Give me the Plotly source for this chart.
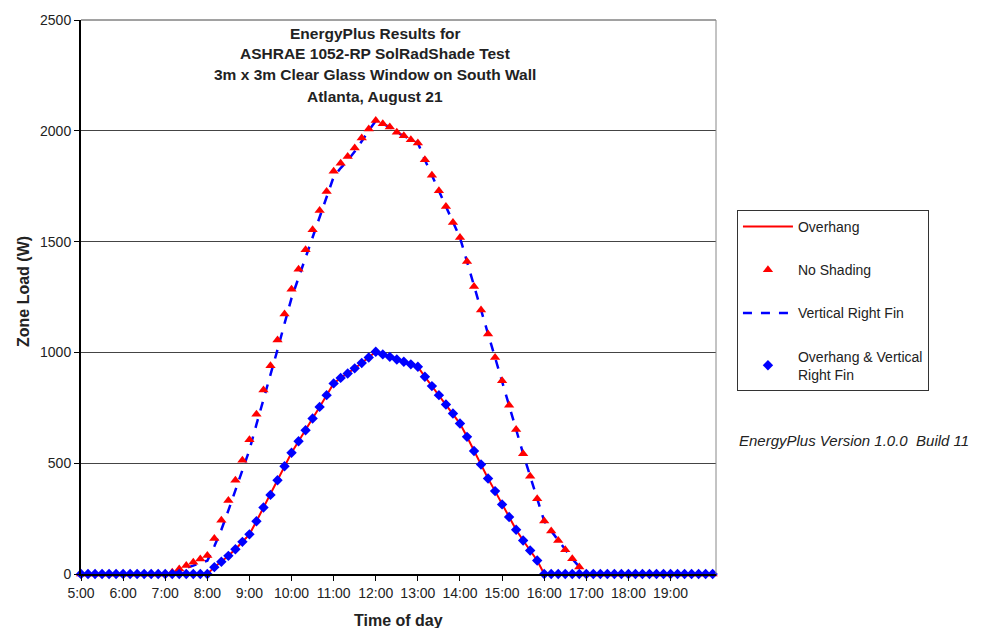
import plotly.graph_objects as go

# time of day: 5:00 .. 20:00 every 10 minutes (hours as decimals)
times = [5 + i / 6 for i in range(91)]

no_shading = [0] * 13 + [8, 23, 38, 53, 68, 83,
              160, 242, 332, 423, 513, 606, 721, 830, 940, 1056, 1173, 1285,
              1375, 1463, 1553, 1640, 1726, 1817, 1854, 1884, 1922, 1967, 2008, 2047,
              2032, 2017, 1993, 1978, 1960, 1945, 1869, 1799, 1729, 1658, 1586, 1518,
              1410, 1297, 1191, 1083, 977, 872, 762, 652, 543, 441, 340, 239,
              194, 151, 109, 69, 32, 0] + [0] * 18

vertical_fin = [0] * 13 + [5, 15, 27, 38, 50, 60,
                125, 200, 287, 378, 468, 560, 675, 785, 895, 1012, 1130, 1245,
                1337, 1428, 1521, 1610, 1698, 1792, 1832, 1866, 1906, 1955, 2000, 2045,
                2032, 2017, 1993, 1978, 1960, 1945, 1869, 1799, 1729, 1658, 1586, 1518,
                1410, 1297, 1191, 1083, 977, 872, 762, 652, 543, 441, 340, 239,
                194, 151, 109, 69, 32, 0] + [0] * 18

overhang = [0] * 19 + [31, 55, 82, 112, 145, 179, 238, 300, 357, 423, 486, 547,
            599, 649, 702, 754, 807, 860, 885, 905, 928, 952, 977, 1003,
            991, 980, 968, 958, 946, 935, 890, 848, 807, 765, 724, 679,
            619, 555, 494, 431, 374, 314, 257, 200, 151, 106, 61, 0] + [0] * 24

overhang_fin = [0] * 19 + [31, 55, 82, 112, 145, 179, 238, 300, 357, 423, 486, 547,
                599, 649, 702, 754, 807, 860, 885, 905, 928, 952, 977, 1003,
                991, 980, 968, 958, 946, 935, 890, 848, 807, 765, 724, 679,
                619, 555, 494, 431, 374, 314, 257, 200, 151, 106, 61, 0] + [0] * 24

tick_hours = list(range(5, 20))
tick_labels = [f"{h}:00" for h in tick_hours]
y_ticks = [0, 500, 1000, 1500, 2000, 2500]

title_lines = ["EnergyPlus Results for", "ASHRAE 1052-RP SolRadShade Test",
               "3m x 3m Clear Glass Window on South Wall", "Atlanta, August 21"]

FONT = "Liberation Sans, Arial, sans-serif"
RED = "#ff0000"
BLUE = "#0000ff"

fig = go.Figure()
fig.add_trace(go.Scatter(x=times, y=overhang, mode="lines", name="Overhang",
                         line=dict(color=RED, width=2), legendrank=1,
                         legendgroup="a", cliponaxis=False))
fig.add_trace(go.Scatter(x=times, y=vertical_fin, mode="lines", name="Vertical Right Fin",
                         line=dict(color=BLUE, width=2.5, dash="dash"), legendrank=3,
                         legendgroup="c", cliponaxis=False))
fig.add_trace(go.Scatter(x=times, y=no_shading, mode="markers", name="No Shading",
                         marker=dict(symbol="triangle-up", color=RED, size=9),
                         legendrank=2, legendgroup="b", cliponaxis=False))
fig.add_trace(go.Scatter(x=times, y=overhang_fin, mode="markers",
                         name="Overhang & Vertical<br>Right Fin",
                         marker=dict(symbol="diamond", color=BLUE, size=8),
                         legendrank=4, legendgroup="d", cliponaxis=False))

fig.update_layout(
    width=986, height=628,
    margin=dict(l=81, r=270, t=20, b=54),
    paper_bgcolor="white", plot_bgcolor="white",
    font=dict(family=FONT, size=14, color="#222"),
    showlegend=True,
    legend=dict(x=1.033, y=0.657, xanchor="left", yanchor="top",
                bordercolor="#333", borderwidth=1, bgcolor="white",
                font=dict(size=14, color="#222"), tracegroupgap=22,
                itemwidth=50, traceorder="grouped"),
    xaxis=dict(range=[5, 20.08], tickmode="array", tickvals=tick_hours,
               ticktext=tick_labels, ticks="outside", ticklen=5, tickcolor="#000",
               showgrid=False, zeroline=False, showline=True, linecolor="#000",
               linewidth=2, tickfont=dict(size=14, color="#222")),
    yaxis=dict(range=[0, 2500], tickmode="array", tickvals=y_ticks,
               ticks="outside", ticklen=5, tickcolor="#000",
               showgrid=True, gridcolor="#444", gridwidth=1, zeroline=False,
               showline=True, linecolor="#000", linewidth=2,
               tickfont=dict(size=14, color="#222")),
)

# plot box: top and right edges
fig.add_shape(type="line", xref="paper", yref="paper", x0=0, x1=1, y0=1, y1=1,
              line=dict(color="#444", width=1))
fig.add_shape(type="line", xref="paper", yref="paper", x0=1, x1=1, y0=0, y1=1,
              line=dict(color="#888", width=1))

for i, (line, ypx) in enumerate(zip(title_lines, [33, 54, 75, 97])):
    fig.add_annotation(text="<b>" + line + "</b>",
                       xref="paper", yref="paper", x=(375 - 81) / 635,
                       y=(574 - ypx) / 554, xanchor="center", yanchor="middle",
                       showarrow=False, font=dict(size=15.5, color="#222", family=FONT))
fig.add_annotation(text="<b>Time of day</b>", xref="paper", yref="paper",
                   x=(398 - 81) / 635, y=(574 - 620) / 554, xanchor="center",
                   yanchor="middle", showarrow=False,
                   font=dict(size=16, color="#222", family=FONT))
fig.add_annotation(text="<b>Zone Load (W)</b>", xref="paper", yref="paper",
                   x=(23 - 81) / 635, y=(574 - 292) / 554, xanchor="center",
                   yanchor="middle", showarrow=False, textangle=-90,
                   font=dict(size=16, color="#222", family=FONT))
fig.add_annotation(text="<i>EnergyPlus Version 1.0.0  Build 11</i>", xref="paper",
                   yref="paper", x=(737 - 81) / 635, y=(574 - 440) / 554,
                   xanchor="left", yanchor="middle", showarrow=False,
                   font=dict(size=15, color="#222", family=FONT))

fig.write_html("out.html")
